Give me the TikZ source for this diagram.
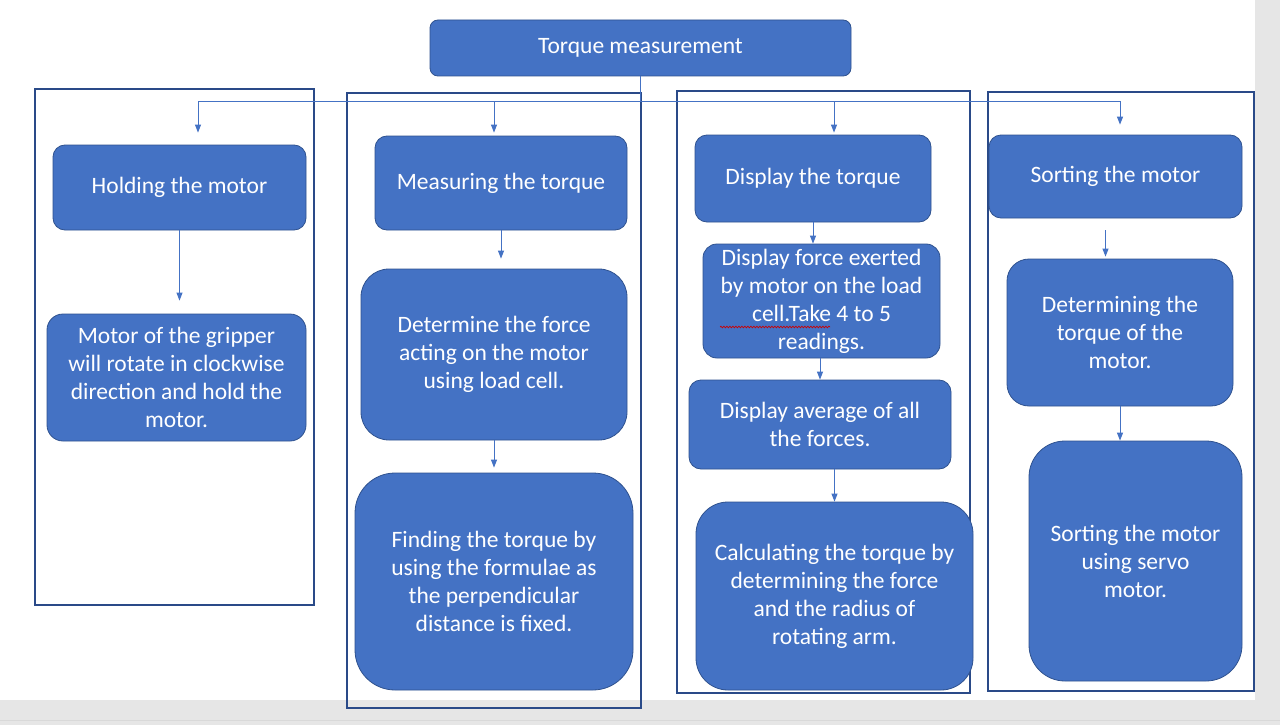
\documentclass[tikz,border=0pt]{standalone}
\usepackage{fontspec}
\setmainfont{Carlito}
\usetikzlibrary{arrows.meta}
\usetikzlibrary{positioning}
\usetikzlibrary{decorations.pathmorphing}

\definecolor{boxblue}{HTML}{4472C4}
\definecolor{edgeblue}{HTML}{2F528F}
\definecolor{frameblue}{HTML}{2A4A88}
\definecolor{pagegrey}{HTML}{E6E6E6}

\tikzset{
  stage/.style={draw=edgeblue, fill=boxblue, text=white, align=center,
    rounded corners=#1, inner sep=2pt, line width=0.8pt,
    font=\fontsize{23.5}{28}\selectfont},
  stage/.default=12pt,
  frame/.style={draw=frameblue, line width=2.8pt},
  link/.style={draw=boxblue, line width=1pt},
  flow/.style={link, -{Triangle[length=8pt,width=6pt]}}
}

\begin{document}
\begin{tikzpicture}[x=1pt, y=-1pt]
    \useasboundingbox (0,0) rectangle (1280,725);
    % page
    \fill[pagegrey] (0,0) rectangle (1280,725);
    \fill[white] (0,0) rectangle (1255,700);
    \draw[black!15, line width=1pt] (0,720) -- (1280,720);

    % column frames
    \draw[frame] (35,89) rectangle (314,605);
    \draw[frame] (347,93) rectangle (641,708);
    \draw[frame] (677,91) rectangle (970,693);
    \draw[frame] (988,92) rectangle (1254,691);

    \node[stage=8pt, minimum width=421pt, minimum height=56pt] (top) at (640.5,48) {Torque measurement};

    % holding
    \node[stage, minimum width=253pt, minimum height=85pt] (hold) at (179.5,187.5) {Holding the motor};
    \node[stage=16pt, minimum width=259pt, minimum height=127pt] (grip) at (176.5,377.5)
      {Motor of the gripper\\ will rotate in clockwise\\ direction and hold the\\ motor.};

    % measuring
    \node[stage, minimum width=252pt, minimum height=94pt] (meas) at (501,183) {Measuring the torque};
    \node[stage=28pt, minimum width=266pt, minimum height=171pt] (force) at (494,354.5)
      {Determine the force\\ acting on the motor\\ using load cell.};
    \node[stage=40pt, minimum width=278pt, minimum height=217pt] (find) at (494,581.5)
      {Finding the torque by\\ using the formulae as\\ the perpendicular\\ distance is fixed.};

    % display
    \node[stage, minimum width=236pt, minimum height=87pt] (disp) at (813,178.5) {Display the torque};
    \node[stage=14pt, minimum width=237pt, minimum height=114pt] (exert) at (821.5,301)
      {Display force exerted\\ by motor on the load\\ cell.Take 4 to 5\\ readings.};
    \node[stage, minimum width=262pt, minimum height=89pt] (avg) at (820,424.5)
      {Display average of all\\ the forces.};
    \node[stage=32pt, minimum width=277pt, minimum height=188pt] (calc) at (834.5,596)
      {Calculating the torque by\\ determining the force\\ and the radius of\\ rotating arm.};

    % spell check mark
    \draw[red!80!black, line width=0.7pt, decorate,
      decoration={snake, amplitude=0.8pt, segment length=3pt}] (720,327) -- (830,327);

    % sorting
    \node[stage, minimum width=253pt, minimum height=83pt] (sort) at (1115.5,176.5) {Sorting the motor};
    \node[stage=22pt, minimum width=226pt, minimum height=147pt] (det) at (1120,332.5)
      {Determining the\\ torque of the\\ motor.};
    \node[stage=36pt, minimum width=213pt, minimum height=240pt] (servo) at (1135.5,561)
      {Sorting the motor\\ using servo\\ motor.};

    % bus
    \coordinate (bus) at (640.5,101);
    \coordinate (j1) at (198,101);
    \coordinate (j2) at (494,101);
    \coordinate (j3) at (834,101);
    \coordinate (j4) at (1120,101);
    \draw[link] (top.south) -- (bus);
    \draw[link] (j1) -- (j4);
    \draw[flow, shorten >=12pt] (j1) -- (j1 |- hold.north);
    \draw[flow, shorten >=3pt] (j2) -- (j2 |- meas.north);
    \draw[flow, shorten >=2pt] (j3) -- (j3 |- disp.north);
    \draw[flow, shorten >=10pt] (j4) -- (j4 |- sort.north);

    % steps
    \draw[flow, shorten >=13pt] (hold.south) -- (hold.south |- grip.north);
    \draw[flow, shorten >=10pt] (meas.south) -- (meas.south |- force.north);
    \draw[flow, shorten >=5pt] (force.south) -- (force.south |- find.north);
    \draw[flow] (disp.south) -- (disp.south |- exert.north);
    \draw[flow] (avg.north |- exert.south) -- (avg.north);
    \draw[flow] (calc.north |- avg.south) -- (calc.north);
    \draw[flow, shorten <=12pt, shorten >=2pt] ([xshift=-10pt]sort.south) -- ([xshift=-10pt]sort.south |- det.north);
    \draw[flow] (det.south) -- (det.south |- servo.north);
\end{tikzpicture}
\end{document}
